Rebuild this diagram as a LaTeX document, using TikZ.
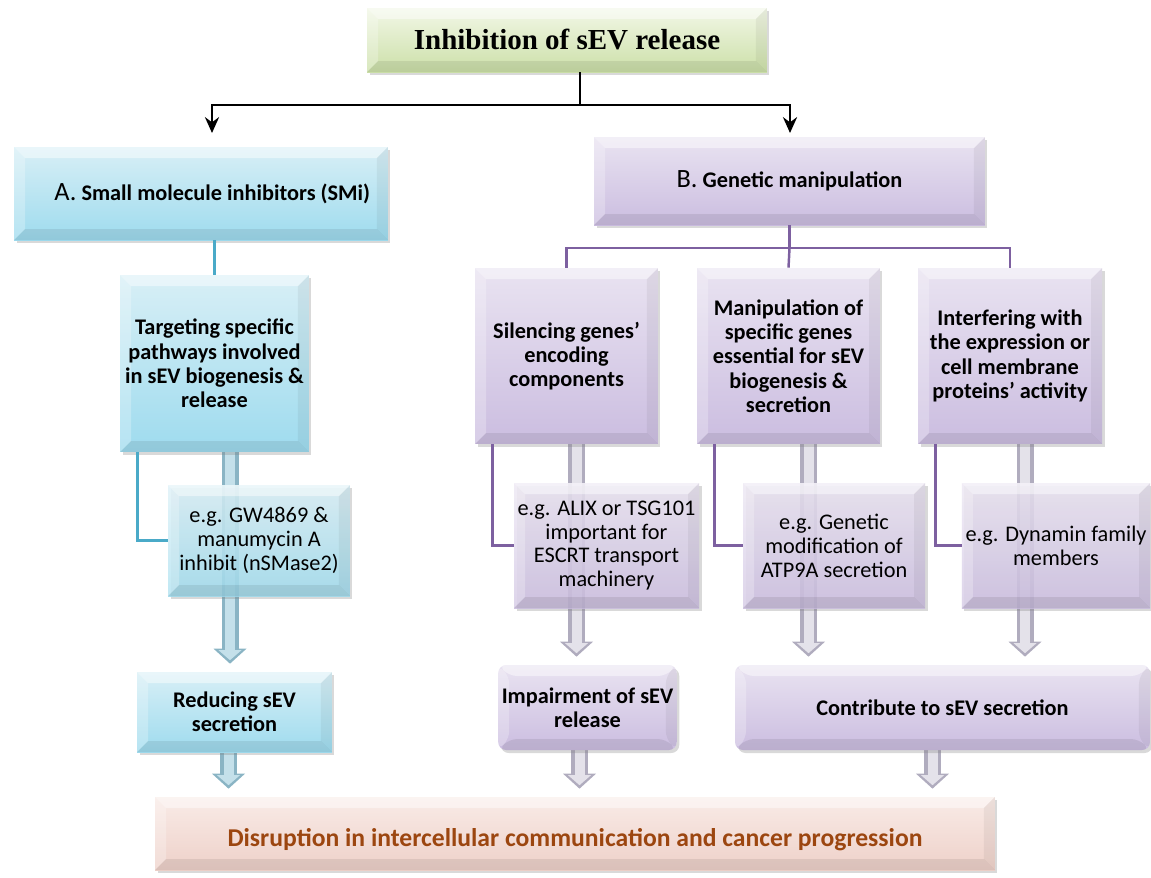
\documentclass[tikz,border=0pt]{standalone}
\usepackage{fontspec}
\setmainfont{Carlito}
\newfontfamily\titlefont{Liberation Serif}
\usetikzlibrary{arrows.meta,calc,shadows,backgrounds,positioning}

\definecolor{bluetop}{RGB}{216,239,246}
\definecolor{bluebot}{RGB}{158,219,238}
\definecolor{liltop}{RGB}{233,227,241}
\definecolor{lilbot}{RGB}{203,189,224}
\definecolor{greentop}{RGB}{242,247,231}
\definecolor{greenbot}{RGB}{204,224,168}
\definecolor{pinktop}{RGB}{249,235,231}
\definecolor{pinkbot}{RGB}{238,209,201}
\definecolor{acol}{RGB}{74,170,200}
\definecolor{bcol}{RGB}{125,96,160}
\definecolor{rusttext}{RGB}{156,70,16}
\definecolor{fblueedge}{RGB}{138,180,196}
\definecolor{fbluecore}{RGB}{196,224,234}
\definecolor{flilacedge}{RGB}{176,172,190}
\definecolor{flilaccore}{RGB}{228,226,234}

\tikzset{
  bevel/.style={path picture={
      \path (path picture bounding box.north west) coordinate (pnw)
            (path picture bounding box.north east) coordinate (pne)
            (path picture bounding box.south west) coordinate (psw)
            (path picture bounding box.south east) coordinate (pse);
      \fill[white,opacity=.45] (pnw) -- (pne) -- ($(pne)+(-#1,-#1)$) -- ($(pnw)+(#1,-#1)$) -- cycle;
      \fill[white,opacity=.25] (pnw) -- ($(pnw)+(#1,-#1)$) -- ($(psw)+(#1,#1)$) -- (psw) -- cycle;
      \fill[black,opacity=.05] (pne) -- (pse) -- ($(pse)+(-#1,#1)$) -- ($(pne)+(-#1,-#1)$) -- cycle;
      \fill[black,opacity=.08] (psw) -- (pse) -- ($(pse)+(-#1,#1)$) -- ($(psw)+(#1,#1)$) -- cycle;
    }},
  bevel/.default=0.22cm,
  box/.style={align=center, inner sep=2pt, bevel,
    font=\fontsize{12.7}{13.8}\selectfont\bfseries,
    drop shadow={opacity=.3, shadow xshift=.05cm, shadow yshift=-.06cm}},
  abox/.style={box, top color=bluetop, bottom color=bluebot},
  bbox/.style={box, top color=liltop, bottom color=lilbot},
  egtext/.style={font=\fontsize{12.7}{13.6}\selectfont\mdseries, fill opacity=.85, text opacity=1},
  kline/.style={line width=1.5pt, black},
  aline/.style={line width=1.4pt, acol},
  bline/.style={line width=1.4pt, bcol},
  fatouter/.style={line width=.34cm, draw=#1edge, shorten >=.16cm,
    -{Triangle[length=.3cm, width=.66cm, line width=0pt]}},
  fatinner/.style={line width=.2cm, draw=#1core, shorten >=.23cm,
    -{Triangle[length=.2cm, width=.46cm, line width=0pt]}},
}

\begin{document}
\begin{tikzpicture}[x=0.02cm, y=-0.02cm]
\useasboundingbox (0,0) rectangle (1151,877);

% Titel
\node[box, top color=greentop, bottom color=greenbot, minimum width=8cm, minimum height=1.28cm,
      font=\titlefont\bfseries\fontsize{16.5}{18}\selectfont] (top) at (567,40) {Inhibition of sEV release};

% Zweig A
\node[abox, minimum width=7.48cm, minimum height=1.86cm] (smi) at (201,193.5)
  {\hspace*{.45cm}{\mdseries\fontsize{15}{15}\selectfont A.} Small molecule inhibitors (SMi)};
\node[abox, minimum width=3.78cm, minimum height=3.54cm] (tgt) at (214.5,363.5)
  {Targeting specific\\pathways involved\\in sEV biogenesis \&\\release};
\node[abox, egtext, minimum width=3.64cm, minimum height=2.22cm] (egA) at (259,540.5)
  {e.g. GW4869 \&\\manumycin A\\inhibit (nSMase2)};
\node[abox, minimum width=3.9cm, minimum height=1.6cm] (red) at (234.5,712)
  {Reducing sEV\\secretion};

% Zweig B
\node[bbox, minimum width=7.82cm, minimum height=1.76cm] (gen) at (789.5,181)
  {{\mdseries\fontsize{15}{15}\selectfont B.} Genetic manipulation};
\node[bbox, minimum width=3.66cm, minimum height=3.52cm] (sil) at (566.5,356)
  {Silencing genes’\\encoding\\components};
\node[bbox, minimum width=3.66cm, minimum height=3.52cm] (man) at (788.5,356)
  {Manipulation of\\specific genes\\essential for sEV\\biogenesis \&\\secretion};
\node[bbox, minimum width=3.68cm, minimum height=3.52cm] (itf) at (1010,356)
  {Interfering with\\the expression or\\cell membrane\\proteins’ activity};
\node[bbox, egtext, minimum width=3.66cm, minimum height=2.5cm] (egB) at (606.5,545.5)
  {e.g. ALIX or TSG101\\important for\\ESCRT transport\\machinery};
\node[bbox, egtext, minimum width=3.64cm, minimum height=2.5cm] (egC) at (834,545.5)
  {e.g. Genetic\\modification of\\ATP9A secretion};
\node[bbox, egtext, minimum width=3.64cm, minimum height=2.5cm] (egD) at (1056,545.5)
  {e.g. Dynamin family\\members};
\node[bbox, rounded corners=.16cm, minimum width=3.38cm, minimum height=1.7cm] (imp) at (587.5,707.5)
  {Impairment of sEV\\release};
\node[bbox, rounded corners=.16cm, minimum width=8.3cm, minimum height=1.7cm] (con) at (942.5,707.5)
  {Contribute to sEV secretion};

% Ergebnis
\node[box, top color=pinktop, bottom color=pinkbot, minimum width=16.8cm, minimum height=1.46cm,
      text=rusttext, text height=.62cm, font=\fontsize{14.6}{16}\selectfont\bfseries] (dis) at (575,833.5)
  {Disruption in intercellular communication and cancer progression};

% Verbindungen oben
\coordinate (split) at (580,105);
\coordinate (toA) at (212,133);
\coordinate (toB) at (790,133);
\draw[kline] (top.south -| split) -- (split);
\draw[kline, -{Stealth[length=9pt, width=8pt]}] (split) -| (toA);
\draw[kline, -{Stealth[length=9pt, width=8pt]}] (split) -| (toB);

% Linien A
\draw[aline] (smi.south -| tgt.north) -- (tgt.north);
\draw[aline] ($(tgt.south west)+(18,0)$) |- (egA.west);

% Linien B
\coordinate (bsplit) at (789.5,248);
\draw[bline] (gen.south) -- (bsplit);
\draw[bline] (sil.north) |- (bsplit) -| (itf.north);
\draw[bline] (bsplit) -- (man.north);
\foreach \u/\l in {sil/egB, man/egC, itf/egD}
  \draw[bline] ($(\u.south west)+(18,0)$) |- (\l.west);

% dicke Pfeile
\begin{scope}[on background layer]
  \foreach \u/\l/\c/\o in {tgt/red/fblue/15.5, sil/imp/flilac/10, man/con/flilac/20,
                           itf/con/flilac/15, red/dis/fblue/-6, imp/dis/flilac/-8, con/dis/flilac/-10} {
    \coordinate (s) at ($(\u.south)+(\o,0)$);
    \draw[fatouter=\c] (s) -- (s |- \l.north);
    \draw[fatinner=\c] (s) -- (s |- \l.north);
  }
\end{scope}
\end{tikzpicture}
\end{document}
